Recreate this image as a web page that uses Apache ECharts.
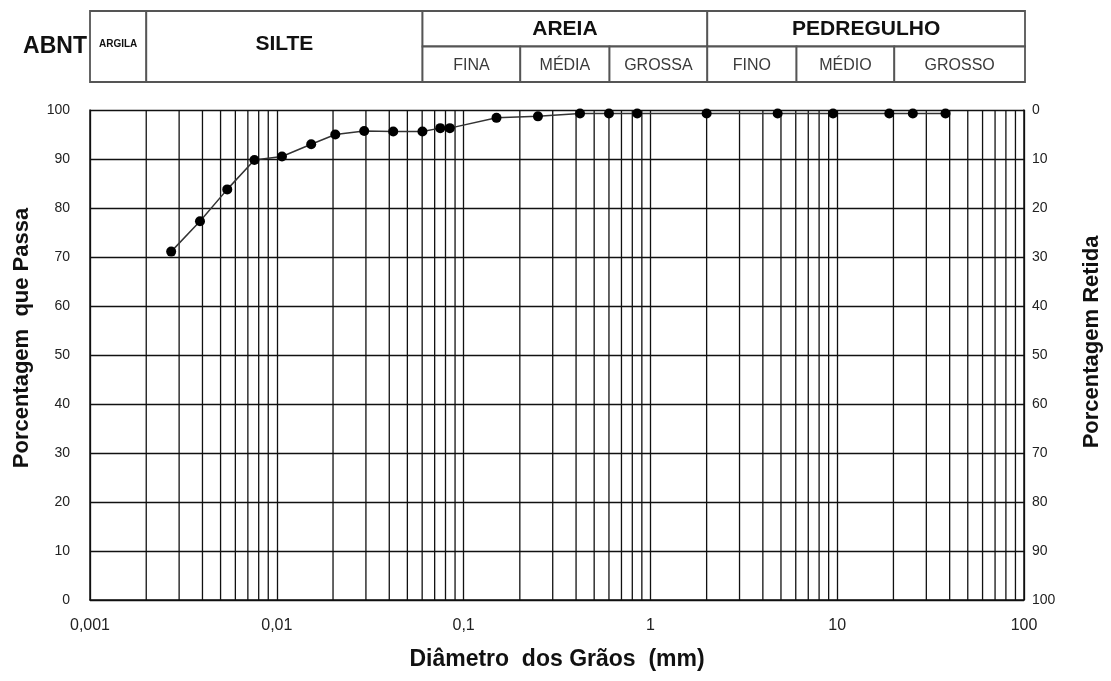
<!DOCTYPE html>
<html>
<head>
<meta charset="utf-8">
<title>Curva granulométrica</title>
<script src="https://cdn.jsdelivr.net/npm/echarts@6.0.0/dist/echarts.min.js"></script>
<style>
  html, body { margin: 0; padding: 0; background: #fff; }
  #chart { width: 1111px; height: 681px; }
</style>
</head>
<body>
<div id="chart"></div>
<script>
// dados do ensaio (diâmetro em mm, % que passa)
const diametro = [0.00272, 0.00388, 0.00543, 0.00759, 0.01066, 0.01528, 0.02056, 0.02937, 0.042, 0.0602,
  0.075, 0.0844, 0.15, 0.25, 0.42, 0.6, 0.85, 2.0, 4.8, 9.5, 19, 25.4, 38]
const passa = [71.1, 77.3, 83.8, 89.8, 90.5, 93.0, 95.0, 95.7, 95.6, 95.6,
  96.3, 96.3, 98.4, 98.7, 99.3, 99.3, 99.3, 99.3, 99.3, 99.3, 99.3, 99.3, 99.3]

// rótulos dos eixos
const xTickLabels = ['0,001', '0,01', '0,1', '1', '10', '100']
const decadas = [0.001, 0.01, 0.1, 1, 10]

// classificação ABNT
const abntMain = ['ARGILA', 'SILTE', 'AREIA', 'PEDREGULHO']
const abntMainLimits = [[0.001, 0.002], [0.002, 0.06], [0.06, 2], [2, 100]]
const abntSub = ['FINA', 'MÉDIA', 'GROSSA', 'FINO', 'MÉDIO', 'GROSSO']
const abntSubLimits = [[0.06, 0.2], [0.2, 0.6], [0.6, 2], [2, 6], [6, 20], [20, 100]]

const FONT = '"Liberation Sans", Arial, sans-serif'
const GRID_LEFT = 90
const GRID_RIGHT = 86

// linhas secundárias da escala log (2..9 em cada década)
const minorX = []
decadas.forEach(d => {
  for (let k = 2; k <= 9; k++) minorX.push(+(d * k).toPrecision(3))
})

// células do cabeçalho: [x0, x1, y0, y1, nivel]
const hasSub = (lim) => abntSubLimits.some(s => s[0] >= lim[0] && s[1] <= lim[1])
const headerCells = []
const headerNames = []
abntMain.forEach((name, i) => {
  const lim = abntMainLimits[i]
  const nivel = name === 'ARGILA' ? 2 : 0
  headerCells.push([lim[0], lim[1], hasSub(lim) ? 1 : 0, 2, nivel])
  headerNames.push(name)
})
abntSub.forEach((name, i) => {
  const lim = abntSubLimits[i]
  headerCells.push([lim[0], lim[1], 0, 1, 1])
  headerNames.push(name)
})

const chart = echarts.init(document.getElementById('chart'))

const renderCell = (params, api) => {
  const p0 = api.coord([api.value(0), api.value(2)])
  const p1 = api.coord([api.value(1), api.value(3)])
  const nivel = api.value(4)
  const x = Math.min(p0[0], p1[0])
  const y = Math.min(p0[1], p1[1])
  const w = Math.abs(p1[0] - p0[0])
  const h = Math.abs(p1[1] - p0[1])
  let fontSize = 21, fontWeight = 'bold', fill = '#111', dy = 0
  if (nivel === 1) { fontSize = 16; fontWeight = 'normal'; fill = '#3a3a3a'; dy = 1 }
  if (nivel === 2) { fontSize = 10; fontWeight = 'bold'; dy = -2 }
  if (nivel === 0 && h > 50) dy = -2
  return {
    type: 'group',
    children: [
      {
        type: 'rect',
        shape: { x: x, y: y, width: w, height: h },
        style: { fill: '#fff', stroke: '#555', lineWidth: 1.8 }
      },
      {
        type: 'text',
        style: {
          text: headerNames[params.dataIndex], x: x + w / 2, y: y + h / 2 + dy,
          align: 'center', verticalAlign: 'middle',
          fontSize: fontSize, fontWeight: fontWeight, fontFamily: FONT, fill: fill
        }
      }
    ]
  }
}

const renderMinor = (params, api) => {
  const p0 = api.coord([api.value(0), 0])
  const p1 = api.coord([api.value(0), 100])
  return {
    type: 'line',
    shape: { x1: p0[0], y1: p0[1], x2: p1[0], y2: p1[1] },
    style: { stroke: '#111', lineWidth: 1.3 }
  }
}

const option = {
  backgroundColor: '#fff',
  animation: false,
  textStyle: { fontFamily: FONT },
  grid: [
    { left: GRID_LEFT, right: GRID_RIGHT, top: 110, bottom: 81 },
    { left: GRID_LEFT, right: GRID_RIGHT, top: 11, height: 71 }
  ],
  xAxis: [
    {
      type: 'log', logBase: 10, min: 0.001, max: 100, gridIndex: 0,
      name: 'Diâmetro  dos Grãos  (mm)', nameLocation: 'middle', nameGap: 48,
      nameTextStyle: { fontSize: 23, fontWeight: 'bold', color: '#111', fontFamily: FONT },
      axisLine: { show: true, lineStyle: { color: '#111', width: 1.5 } },
      axisTick: { show: false },
      axisLabel: {
        margin: 18, fontSize: 16, color: '#222', fontFamily: FONT,
        formatter: (v) => xTickLabels[Math.round(Math.log10(v)) + 3] || ''
      },
      splitLine: { show: true, lineStyle: { color: '#111', width: 1.3 } }
    },
    {
      type: 'log', logBase: 10, min: 0.001, max: 100, gridIndex: 1,
      show: false
    }
  ],
  yAxis: [
    {
      type: 'value', min: 0, max: 100, interval: 10, gridIndex: 0,
      name: 'Porcentagem  que Passa', nameLocation: 'middle', nameGap: 57, nameRotate: 90,
      nameTextStyle: { fontSize: 22, fontWeight: 'bold', color: '#111', fontFamily: FONT, padding: [0, 0, 0, 34] },
      axisLine: { show: true, lineStyle: { color: '#111', width: 1.5 } },
      axisTick: { show: false },
      axisLabel: { margin: 20, fontSize: 14, color: '#222', fontFamily: FONT },
      splitLine: { show: true, lineStyle: { color: '#111', width: 1.3 } }
    },
    {
      type: 'value', min: 0, max: 100, interval: 10, gridIndex: 0, inverse: true,
      position: 'right',
      name: 'Porcentagem Retida', nameLocation: 'middle', nameGap: 57, nameRotate: 90,
      nameTextStyle: { fontSize: 22, fontWeight: 'bold', color: '#111', fontFamily: FONT, padding: [0, 0, 0, 26] },
      axisLine: { show: true, lineStyle: { color: '#111', width: 1.5 } },
      axisTick: { show: false },
      axisLabel: { margin: 8, fontSize: 14, color: '#222', fontFamily: FONT },
      splitLine: { show: false }
    },
    {
      type: 'value', min: 0, max: 2, gridIndex: 1,
      name: 'ABNT', nameLocation: 'middle', nameGap: 3, nameRotate: 0,
      nameTextStyle: { fontSize: 23, fontWeight: 'bold', color: '#111', fontFamily: FONT, align: 'right' },
      axisLine: { show: false }, axisTick: { show: false },
      axisLabel: { show: false }, splitLine: { show: false }
    }
  ],
  series: [
    {
      // grade secundária da escala log
      type: 'custom', xAxisIndex: 0, yAxisIndex: 0,
      renderItem: renderMinor,
      data: minorX.map(v => [v, 0]),
      silent: true, z: 1
    },
    {
      name: 'Passa', type: 'line', xAxisIndex: 0, yAxisIndex: 0,
      data: diametro.map((d, i) => [d, passa[i]]),
      symbol: 'circle', symbolSize: 10,
      itemStyle: { color: '#000' },
      lineStyle: { color: '#333', width: 1.5 },
      z: 5
    },
    {
      type: 'custom', xAxisIndex: 1, yAxisIndex: 2,
      renderItem: renderCell,
      data: headerCells,
      silent: true
    }
  ]
}

chart.setOption(option)
window.addEventListener('resize', () => chart.resize())
</script>
</body>
</html>
